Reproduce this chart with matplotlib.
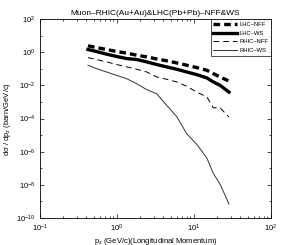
import matplotlib
matplotlib.use("Agg")
import matplotlib.pyplot as plt
from matplotlib.ticker import LogLocator, NullFormatter

plt.rcParams['font.family'] = ['Liberation Sans', 'DejaVu Sans']
plt.rcParams['mathtext.fontset'] = 'custom'
plt.rcParams['mathtext.rm'] = 'Liberation Sans'
plt.rcParams['mathtext.it'] = 'Liberation Sans'

pz = [0.42, 0.54, 0.73, 0.99, 1.34, 1.8, 2.43, 3.28, 4.43, 5.97, 8.05, 10.9, 14.7, 17.8, 21.8, 28.5]
lhc_nff = [2.42, 1.91, 1.45, 1.10, 0.87, 0.66, 0.52, 0.39, 0.30, 0.225, 0.163, 0.117, 0.081, 0.051, 0.032, 0.018]
lhc_ws = [1.45, 1.10, 0.76, 0.55, 0.41, 0.36, 0.26, 0.179, 0.129, 0.093, 0.064, 0.044, 0.028, 0.016, 0.010, 0.0039]
rhic_nff = [0.47, 0.36, 0.26, 0.18, 0.13, 0.093, 0.064, 0.032, 0.023, 0.016, 0.0087, 0.0039, 0.0020, 0.00044, 0.00044, 0.00012]
rhic_ws = [0.163, 0.102, 0.064, 0.040, 0.025, 0.0126, 0.0055, 0.0031, 6.1e-4, 1.3e-4, 1.2e-5, 2.7e-6, 4.1e-7, 4.9e-8, 1.1e-8, 6.8e-10]

fig = plt.figure(figsize=(3.0, 2.45), dpi=100)
ax = fig.add_axes([40 / 300, 27 / 245, 231 / 300, 199 / 245])

ax.plot(pz, lhc_nff, color='k', lw=2.4, ls=(0, (2.0, 1.2)), label='LHC\u2013NFF')
ax.plot(pz, lhc_ws, color='k', lw=2.4, label='LHC\u2013WS')
ax.plot(pz, rhic_nff, color='k', lw=0.7, ls=(0, (6, 4)), label='RHIC\u2013NFF')
ax.plot(pz, rhic_ws, color='#333333', lw=0.7, label='RHIC\u2013WS')

ax.set_xscale('log')
ax.set_yscale('log')
ax.set_xlim(0.1, 100)
ax.set_ylim(1e-10, 1e2)
ax.set_yticks([1e-10, 1e-8, 1e-6, 1e-4, 1e-2, 1e0, 1e2])
ax.yaxis.set_minor_locator(LogLocator(base=10, subs=[], numticks=20))
ax.yaxis.set_minor_formatter(NullFormatter())
ax.xaxis.set_minor_locator(LogLocator(base=10, subs=range(2, 10), numticks=20))
ax.xaxis.set_minor_formatter(NullFormatter())
ax.tick_params(which='both', direction='in', top=True, right=True, labelsize=5.5, width=0.5)
ax.tick_params(which='major', length=3)
ax.tick_params(which='minor', length=1.5)
for s in ax.spines.values():
    s.set_linewidth(0.6)

ax.set_title('Muon\u2013RHIC(Au+Au)&LHC(Pb+Pb)\u2013NFF&WS', fontsize=6, pad=3)
ax.set_xlabel('p$_z$ (GeV/c)(Longitudinal Momentum)', fontsize=5.5, labelpad=1)
ax.set_ylabel('d\u03c3 / dp$_z$ (barn/GeV/c)', fontsize=5.5, labelpad=2)

leg = ax.legend(loc='upper right', fontsize=4.2, frameon=True, fancybox=False,
                edgecolor='k', handlelength=4.0, borderaxespad=0.0, labelspacing=0.6,
                handletextpad=0.4, borderpad=0.5)
leg.get_frame().set_linewidth(0.6)

fig.savefig('out.png', dpi=100)
